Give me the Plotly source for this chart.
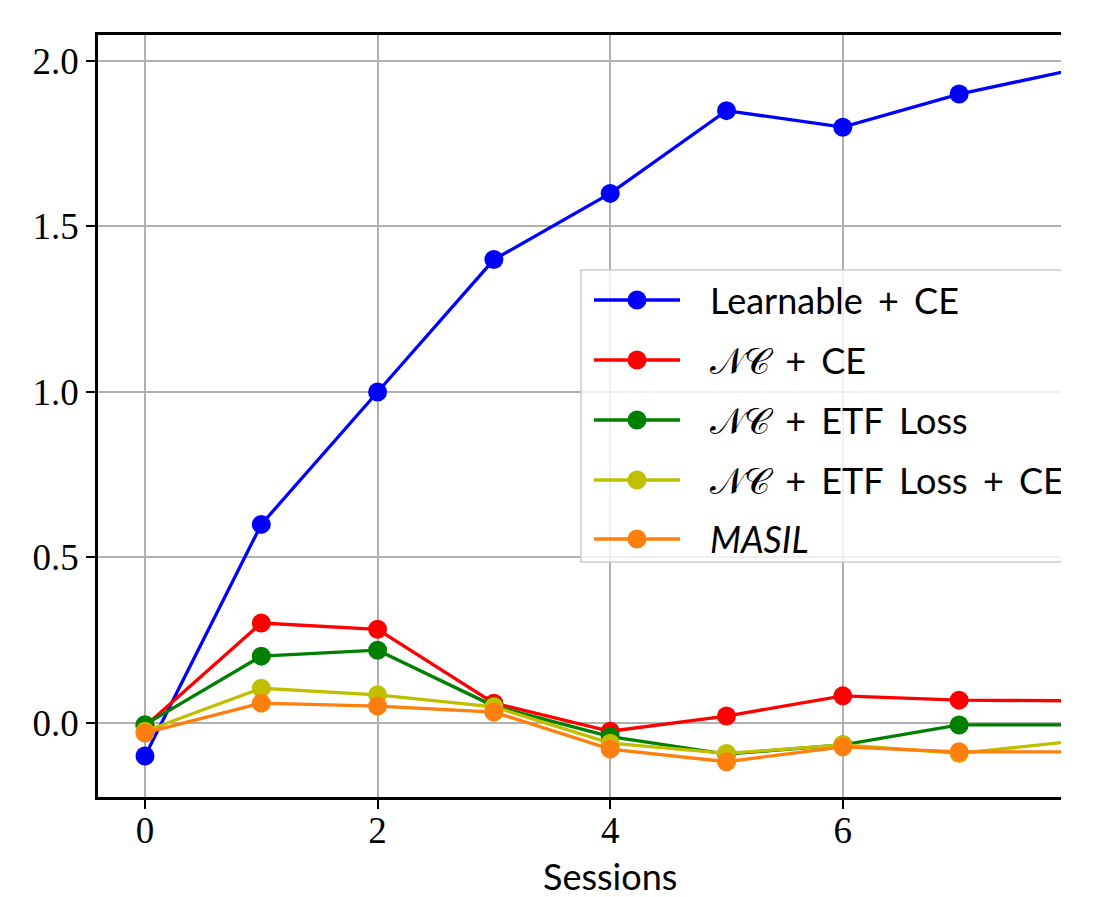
import plotly.graph_objects as go

sessions = [0, 1, 2, 3, 4, 5, 6, 7, 8]
learnable_ce = [-0.10, 0.60, 1.00, 1.40, 1.60, 1.85, 1.80, 1.90, 1.975]
nc_ce = [-0.01, 0.302, 0.283, 0.06, -0.025, 0.021, 0.082, 0.069, 0.067]
nc_etf = [-0.005, 0.202, 0.22, 0.051, -0.041, -0.094, -0.066, -0.006, -0.006]
nc_etf_ce = [-0.025, 0.105, 0.085, 0.049, -0.061, -0.092, -0.066, -0.092, -0.055]
masil = [-0.03, 0.06, 0.051, 0.033, -0.079, -0.117, -0.072, -0.087, -0.087]

SP = "\u2006"
series_names = ["Learnable " + SP + "+" + SP + " CE",
                "𝒩𝒞 " + SP + "+" + SP + " CE",
                "𝒩𝒞 " + SP + "+" + SP + " ETF" + SP + " Loss",
                "𝒩𝒞 " + SP + "+" + SP + " ETF" + SP + " Loss " + SP + "+" + SP + " CE",
                "<i>MASIL</i>"]
series_values = [learnable_ce, nc_ce, nc_etf, nc_etf_ce, masil]
colors = ["#0000ff", "#ff0000", "#008000", "#bfbf00", "#ff7f0e"]

yticks = [0.0, 0.5, 1.0, 1.5, 2.0]
ytick_labels = ["0.0", "0.5", "1.0", "1.5", "2.0"]
xticks = [0, 2, 4, 6, 8]

# page body has an 8px margin; compensate so the picture lines up
OFF = 8
FIG_W, FIG_H = 1061 - OFF, 897 - OFF
L, R, T, B = 98 - OFF, 1061 - OFF, 35 - OFF, 797 - OFF
PW, PH = R - L, B - T


def px2x(px):
    return (px - OFF - L) / PW


def py2y(py):
    return (B - (py - OFF)) / PH


fig = go.Figure()
for name, vals, col in zip(series_names, series_values, colors):
    fig.add_trace(go.Scatter(
        x=sessions, y=vals, mode="lines+markers", name=name,
        line=dict(color=col, width=3.3),
        marker=dict(color=col, size=19),
        showlegend=False,
    ))

shapes = []
annotations = []

# legend box (extends past the cropped right edge)
shapes.append(dict(type="rect", xref="paper", yref="paper",
                   x0=px2x(581), x1=px2x(1200), y0=py2y(562), y1=py2y(270),
                   line=dict(color="#cccccc", width=1.5),
                   fillcolor="rgba(255,255,255,0.8)", layer="above"))
row_y = [300, 360, 420, 480, 539]
for name, col, ry in zip(series_names, colors, row_y):
    shapes.append(dict(type="line", xref="paper", yref="paper",
                       x0=px2x(594), x1=px2x(680), y0=py2y(ry), y1=py2y(ry),
                       line=dict(color=col, width=3.3), layer="above"))
    r = 9.5
    shapes.append(dict(type="circle", xref="paper", yref="paper",
                       x0=px2x(637 - r), x1=px2x(637 + r),
                       y0=py2y(ry + r), y1=py2y(ry - r),
                       line=dict(color=col, width=0), fillcolor=col, layer="above"))
    annotations.append(dict(text=name, xref="paper", yref="paper",
                            x=px2x(708), y=py2y(ry), xanchor="left", yanchor="middle",
                            showarrow=False,
                            font=dict(family="Lato, DejaVu Sans", size=36, color="black")))

# x-axis label (centred on the full axes, which extend past the crop)
annotations.append(dict(text="Sessions", xref="paper", yref="paper",
                        x=px2x(610), y=py2y(876), xanchor="center", yanchor="middle",
                        height=38, showarrow=False,
                        font=dict(family="Lato, DejaVu Sans", size=36, color="black")))

fig.update_layout(
    width=FIG_W, height=FIG_H,
    margin=dict(l=L, r=FIG_W - R, t=T, b=FIG_H - B, pad=0),
    paper_bgcolor="white", plot_bgcolor="white",
    shapes=shapes, annotations=annotations,
    showlegend=False,
)
fig.update_xaxes(
    range=[-0.404, 7.876], tickvals=xticks, ticktext=[str(v) for v in xticks],
    showgrid=True, gridcolor="#b0b0b0", gridwidth=1.6, zeroline=False,
    showline=True, linecolor="black", linewidth=2.5, mirror=True,
    ticks="outside", ticklen=9, tickwidth=2, tickcolor="black",
    ticklabelstandoff=-10,
    tickfont=dict(family="Liberation Serif", size=37, color="black"),
)
fig.update_yaxes(
    range=[-0.2236, 2.0785], tickvals=yticks, ticktext=ytick_labels,
    showgrid=True, gridcolor="#b0b0b0", gridwidth=1.6, zeroline=False,
    showline=True, linecolor="black", linewidth=2.5, mirror=False,
    ticks="outside", ticklen=9, tickwidth=2, tickcolor="black",
    tickfont=dict(family="Liberation Serif", size=37, color="black"),
)

fig.write_html("out.html")
